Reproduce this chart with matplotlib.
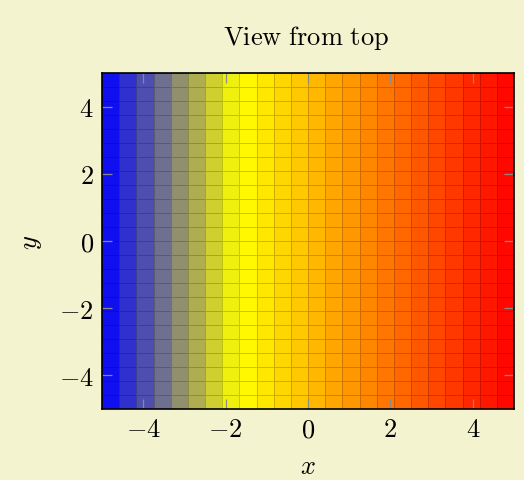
import numpy as np
import matplotlib
matplotlib.use('Agg')
from matplotlib import pyplot as plt
from matplotlib.colors import LinearSegmentedColormap, Normalize

plt.rcParams['mathtext.fontset'] = 'cm'
plt.rcParams['font.family'] = 'serif'
plt.rcParams['font.serif'] = ['cmr10', 'DejaVu Serif']
plt.rcParams['axes.formatter.use_mathtext'] = True

# grid of the surface (25 x 25 samples), viewed from top
x_vals = [-5.0, -4.5833, -4.1667, -3.75, -3.3333, -2.9167, -2.5, -2.0833, -1.6667,
          -1.25, -0.8333, -0.4167, 0.0, 0.4167, 0.8333, 1.25, 1.6667, 2.0833,
          2.5, 2.9167, 3.3333, 3.75, 4.1667, 4.5833, 5.0]
y_vals = [-5.0, -4.5833, -4.1667, -3.75, -3.3333, -2.9167, -2.5, -2.0833, -1.6667,
          -1.25, -0.8333, -0.4167, 0.0, 0.4167, 0.8333, 1.25, 1.6667, 2.0833,
          2.5, 2.9167, 3.3333, 3.75, 4.1667, 4.5833, 5.0]
# z at the samples of one row (all rows are the same)
z_row = [-5.0, -4.5833, -4.1667, -3.75, -3.3333, -2.9167, -2.5, -2.0833, -1.6667,
         -1.25, -0.8333, -0.4167, 0.0, 0.4167, 0.8333, 1.25, 1.6667, 2.0833,
         2.5, 2.9167, 3.3333, 3.75, 4.1667, 4.5833, 5.0]
xticks = [-4, -2, 0, 2, 4]
yticks = [-4, -2, 0, 2, 4]

bg = '#f3f3cf'
cmap = LinearSegmentedColormap.from_list('bl_ye_re', [(0, (0, 0, 1)), (1/3, (1, 1, 0)), (1, (1, 0, 0))])
norm = Normalize(vmin=-5, vmax=5)

Z = np.tile(np.array(z_row), (len(y_vals), 1))
# flat mean shading: each cell gets the mean of its four corners
C = (Z[:-1, :-1] + Z[1:, :-1] + Z[:-1, 1:] + Z[1:, 1:]) / 4

fig = plt.figure(figsize=(5.24, 4.81), dpi=100, facecolor=bg)
ax = fig.add_axes([102/524, 1-410/481, 412/524, 336/481])

face = cmap(norm(C.ravel()))
edge = face.copy()
edge[:, :3] = edge[:, :3] * 0.8
mesh = ax.pcolormesh(x_vals, y_vals, C, cmap=cmap, norm=norm, linewidth=0.55)
mesh.set_edgecolor(edge)

ax.set_xlim(-5, 5)
ax.set_ylim(-5, 5)
ax.set_xticks(xticks)
ax.set_yticks(yticks)
ax.set_xticklabels([r'$%d$' % t for t in xticks])
ax.set_yticklabels([r'$%d$' % t for t in yticks])
ax.tick_params(direction='in', length=7, width=0.9, color='#8a8a8a',
               top=True, right=True, labelsize=19, pad=6)
for s in ax.spines.values():
    s.set_linewidth(1.2)

ax.set_xlabel(r'$x$', fontsize=19)
ax.set_ylabel(r'$y$', fontsize=19)
ax.xaxis.set_label_coords(0.5, -0.135)
ax.yaxis.set_label_coords(-0.14, 0.5)

fig.text(306/524, 1-38/481, r'$\mathrm{View\ from\ top}$', fontsize=19,
         ha='center', va='center')

fig.savefig('out.png', dpi=100, facecolor=bg)
